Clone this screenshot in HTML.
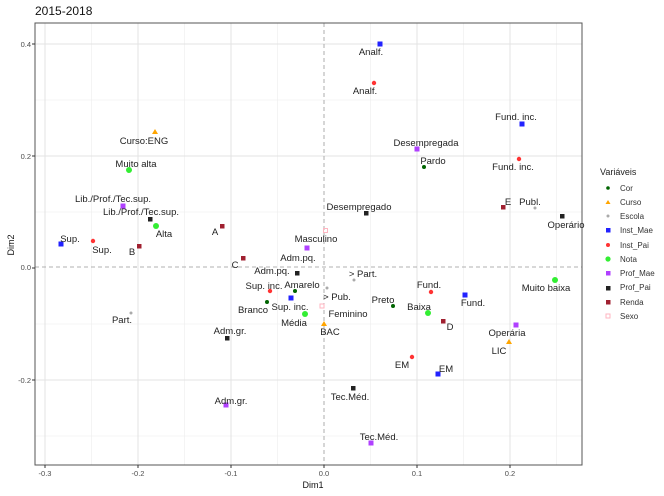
<!DOCTYPE html>
<html><head><meta charset="utf-8"><style>body{margin:0;background:#fff}svg{display:block;font-family:"Liberation Sans",sans-serif}</style></head><body>
<svg width="664" height="496" viewBox="0 0 664 496">
<text x="35" y="15" font-size="12" fill="#111">2015-2018</text>
<g stroke="#ececec" stroke-width="0.6">
<line x1="35" x2="582" y1="100" y2="100"/><line x1="35" x2="582" y1="212" y2="212"/><line x1="35" x2="582" y1="324" y2="324"/><line x1="35" x2="582" y1="436" y2="436"/>
<line y1="23" y2="465" x1="91.5" x2="91.5"/><line y1="23" y2="465" x1="184.5" x2="184.5"/><line y1="23" y2="465" x1="277.5" x2="277.5"/><line y1="23" y2="465" x1="370.5" x2="370.5"/><line y1="23" y2="465" x1="463.5" x2="463.5"/><line y1="23" y2="465" x1="556.5" x2="556.5"/>
</g>
<g stroke="#e3e3e3" stroke-width="1">
<line x1="35" x2="582" y1="44" y2="44"/><line x1="35" x2="582" y1="156" y2="156"/><line x1="35" x2="582" y1="380" y2="380"/>
<line y1="23" y2="465" x1="45" x2="45"/><line y1="23" y2="465" x1="138" x2="138"/><line y1="23" y2="465" x1="231" x2="231"/><line y1="23" y2="465" x1="417" x2="417"/><line y1="23" y2="465" x1="510" x2="510"/>
</g>
<g stroke="#999" stroke-dasharray="4,3" stroke-width="0.8"><line x1="35" x2="582" y1="267" y2="267"/><line x1="324" x2="324" y1="23" y2="465"/></g>
<rect x="35" y="23" width="547" height="442" fill="none" stroke="#555" stroke-width="1"/>
<g font-size="7.5" fill="#4d4d4d" text-anchor="end">
<text x="31" y="47">0.4</text><text x="31" y="159">0.2</text><text x="31" y="270">0.0</text><text x="31" y="383">-0.2</text></g>
<g font-size="7.5" fill="#4d4d4d" text-anchor="middle">
<text x="45" y="476">-0.3</text><text x="138" y="476">-0.2</text><text x="231" y="476">-0.1</text><text x="324" y="476">0.0</text><text x="417" y="476">0.1</text><text x="510" y="476">0.2</text></g>
<g stroke="#333"><line x1="32" x2="35" y1="44" y2="44"/><line x1="32" x2="35" y1="156" y2="156"/><line x1="32" x2="35" y1="268" y2="268"/><line x1="32" x2="35" y1="380" y2="380"/>
<line y1="465" y2="468" x1="45" x2="45"/><line y1="465" y2="468" x1="138" x2="138"/><line y1="465" y2="468" x1="231" x2="231"/><line y1="465" y2="468" x1="324" x2="324"/><line y1="465" y2="468" x1="417" x2="417"/><line y1="465" y2="468" x1="510" x2="510"/></g>
<text x="313" y="488" font-size="9" fill="#111" text-anchor="middle">Dim1</text>
<text transform="translate(14,245) rotate(-90)" font-size="9" fill="#111" text-anchor="middle">Dim2</text>
<g>
<circle cx="424" cy="167" r="2" fill="#006400"/><circle cx="295" cy="291" r="2" fill="#006400"/><circle cx="267" cy="302" r="2" fill="#006400"/><circle cx="393" cy="306" r="2" fill="#006400"/>
<polygon points="155,129 158,134 152,134" fill="#ffa500"/><polygon points="509,339 512,344 506,344" fill="#ffa500"/><polygon points="324,321 327,326 321,326" fill="#ffa500"/>
<g fill="#aaa"><circle cx="131" cy="313" r="1.5"/><circle cx="354" cy="280" r="1.5"/><circle cx="327" cy="288" r="1.5"/><circle cx="535" cy="208" r="1.5"/></g>
<g fill="#2222ff"><rect x="377.5" y="41.5" width="5" height="5"/><rect x="519.5" y="121.5" width="5" height="5"/><rect x="58.5" y="241.5" width="5" height="5"/><rect x="288.5" y="295.5" width="5" height="5"/><rect x="462.5" y="292.5" width="5" height="5"/><rect x="435.5" y="371.5" width="5" height="5"/></g>
<g fill="#ff3333"><circle cx="374" cy="83" r="2.2"/><circle cx="519" cy="159" r="2.2"/><circle cx="93" cy="241" r="2.2"/><circle cx="270" cy="291" r="2.2"/><circle cx="431" cy="292" r="2.2"/><circle cx="412" cy="357" r="2.2"/></g>
<g fill="#33ee33"><circle cx="129" cy="170" r="3"/><circle cx="156" cy="226" r="3"/><circle cx="305" cy="314" r="3"/><circle cx="555" cy="280" r="3"/><circle cx="428" cy="313" r="3"/></g>
<g fill="#b040ff"><rect x="120.5" y="203.5" width="5" height="5"/><rect x="304.5" y="245.5" width="5" height="5"/><rect x="223.5" y="402.5" width="5" height="5"/><rect x="368.5" y="440.5" width="5" height="5"/><rect x="513.5" y="322.5" width="5" height="5"/><rect x="414.5" y="146.5" width="5" height="5"/></g>
<g fill="#222"><rect x="148" y="217" width="4.5" height="4.5"/><rect x="295" y="271" width="4.5" height="4.5"/><rect x="225" y="336" width="4.5" height="4.5"/><rect x="351" y="386" width="4.5" height="4.5"/><rect x="364" y="211" width="4.5" height="4.5"/><rect x="560" y="214" width="4.5" height="4.5"/></g>
<g fill="#a02030"><rect x="220" y="224" width="4.5" height="4.5"/><rect x="137" y="244" width="4.5" height="4.5"/><rect x="241" y="256" width="4.5" height="4.5"/><rect x="441" y="319" width="4.5" height="4.5"/><rect x="501" y="205" width="4.5" height="4.5"/></g>
<g fill="none" stroke="#ffb6c1"><rect x="323.5" y="228.5" width="4" height="4"/><rect x="320" y="304" width="4" height="4"/></g>
</g>
<g font-size="9.5" fill="#222" text-anchor="middle">
<text x="433" y="164">Pardo</text><text x="302" y="288">Amarelo</text><text x="253" y="313">Branco</text><text x="383" y="303">Preto</text>
<text x="144" y="144">Curso:ENG</text><text x="499" y="354">LIC</text><text x="330" y="335">BAC</text>
<text x="122" y="323">Part.</text><text x="363" y="277">&gt; Part.</text><text x="337" y="300">&gt; Pub.</text><text x="530" y="205">Publ.</text>
<text x="371" y="55">Analf.</text><text x="516" y="120">Fund. inc.</text><text x="70" y="242">Sup.</text><text x="290" y="310">Sup. inc.</text><text x="473" y="306">Fund.</text><text x="446" y="372">EM</text>
<text x="365" y="94">Analf.</text><text x="513" y="170">Fund. inc.</text><text x="102" y="253">Sup.</text><text x="264" y="289">Sup. inc.</text><text x="429" y="288">Fund.</text><text x="402" y="368">EM</text>
<text x="136" y="167">Muito alta</text><text x="164" y="237">Alta</text><text x="294" y="326">Média</text><text x="546" y="291">Muito baixa</text><text x="419" y="310">Baixa</text>
<text x="113" y="202">Lib./Prof./Tec.sup.</text><text x="298" y="261">Adm.pq.</text><text x="231" y="404">Adm.gr.</text><text x="379" y="440">Tec.Méd.</text><text x="507" y="336">Operária</text><text x="426" y="146">Desempregada</text>
<text x="141" y="215">Lib./Prof./Tec.sup.</text><text x="272" y="274">Adm.pq.</text><text x="230" y="334">Adm.gr.</text><text x="350" y="400">Tec.Méd.</text><text x="359" y="210">Desempregado</text><text x="566" y="228">Operário</text>
<text x="215" y="235">A</text><text x="132" y="255">B</text><text x="235" y="268">C</text><text x="450" y="330">D</text><text x="508" y="205">E</text>
<text x="316" y="242">Masculino</text><text x="348" y="317">Feminino</text>
</g>
<text x="600" y="175" font-size="9" fill="#222">Variáveis</text>
<g font-size="8" fill="#333">
<circle cx="608" cy="188" r="1.8" fill="#006400"/><text x="620" y="191">Cor</text>
<polygon points="608,200 610.5,204 605.5,204" fill="#ffa500"/><text x="620" y="205">Curso</text>
<circle cx="608" cy="216" r="1.5" fill="#aaa"/><text x="620" y="219">Escola</text>
<rect x="606" y="228" width="4.5" height="4.5" fill="#2222ff"/><text x="620" y="233">Inst_Mae</text>
<circle cx="608" cy="245" r="2" fill="#ff3333"/><text x="620" y="248">Inst_Pai</text>
<circle cx="608" cy="259" r="2.6" fill="#33ee33"/><text x="620" y="262">Nota</text>
<rect x="606" y="271" width="4.5" height="4.5" fill="#b040ff"/><text x="620" y="276">Prof_Mae</text>
<rect x="606" y="286" width="4.5" height="4.5" fill="#222"/><text x="620" y="290">Prof_Pai</text>
<rect x="606" y="300" width="4.5" height="4.5" fill="#a02030"/><text x="620" y="305">Renda</text>
<rect x="606" y="314" width="4" height="4" fill="none" stroke="#ffb6c1"/><text x="620" y="319">Sexo</text>
</g>
</svg>
</body></html>
